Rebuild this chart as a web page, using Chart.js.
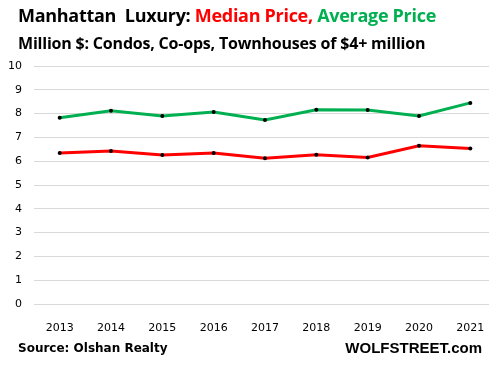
<!DOCTYPE html>
<html>
<head>
<meta charset="utf-8">
<script src="https://cdn.jsdelivr.net/npm/chart.js@4.4.1/dist/chart.umd.min.js"></script>
<style>
  html, body { margin: 0; padding: 0; background: #fff; overflow: hidden; width: 489px; height: 367px; }
  #chart { position: absolute; left: 0; top: 0; }
  .txt { position: absolute; white-space: pre; color: #000; }
  #title { left: 18px; top: 3px; font: bold 18px "Open Sans", sans-serif; letter-spacing: -0.3px; }
  #sub { left: 18px; top: 32px; font: bold 16px "Open Sans", sans-serif; letter-spacing: -0.2px; }
  #source { left: 18px; top: 341px; font: bold 12px "DejaVu Sans", sans-serif; }
  #brand { right: 7px; top: 339px; font: bold 15px "Liberation Sans", sans-serif; }
</style>
</head>
<body>
<canvas id="chart" width="500" height="367"></canvas>
<div class="txt" id="title">Manhattan  Luxury: <span style="color:#ff0000">Median Price,</span> <span style="color:#00b050">Average Price</span></div>
<div class="txt" id="sub">Million $: Condos, Co-ops, Townhouses of $4+ million</div>
<div class="txt" id="source">Source: Olshan Realty</div>
<div class="txt" id="brand">WOLFSTREET.com</div>
<script>
const years = ['2013', '2014', '2015', '2016', '2017', '2018', '2019', '2020', '2021'];
const medianPrice = [6.34, 6.43, 6.26, 6.34, 6.12, 6.27, 6.16, 6.65, 6.53];
const averagePrice = [7.83, 8.12, 7.90, 8.07, 7.73, 8.16, 8.15, 7.90, 8.45];

const lineSet = (label, data, color) => ({
  label,
  data,
  borderColor: color,
  backgroundColor: color,
  borderWidth: 3,
  pointRadius: 2,
  pointBackgroundColor: '#000',
  pointBorderWidth: 0,
  tension: 0,
});

new Chart(document.getElementById('chart'), {
  type: 'line',
  data: {
    labels: years,
    datasets: [
      lineSet('Average Price', averagePrice, '#00b050'),
      lineSet('Median Price', medianPrice, '#ff0000'),
    ],
  },
  options: {
    responsive: false,
    animation: false,
    layout: { padding: { top: 66, bottom: 33, left: 0, right: 0 } },
    plugins: { legend: { display: false }, tooltip: { enabled: false } },
    scales: {
      x: {
        offset: true,
        afterFit: (scale) => { scale.height = 30; },
        grid: { display: false },
        border: { display: false },
        ticks: { color: '#000', font: { family: 'DejaVu Sans', size: 11 }, padding: 10, maxRotation: 0 },
      },
      y: {
        min: 0,
        max: 10,
        afterFit: (scale) => { scale.width = 34; },
        grid: { color: '#d9d9d9', lineWidth: 1, drawTicks: false },
        border: { display: false },
        ticks: { stepSize: 1, color: '#000', font: { family: 'DejaVu Sans', size: 11 }, padding: 12 },
      },
    },
  },
});
</script>
</body>
</html>
